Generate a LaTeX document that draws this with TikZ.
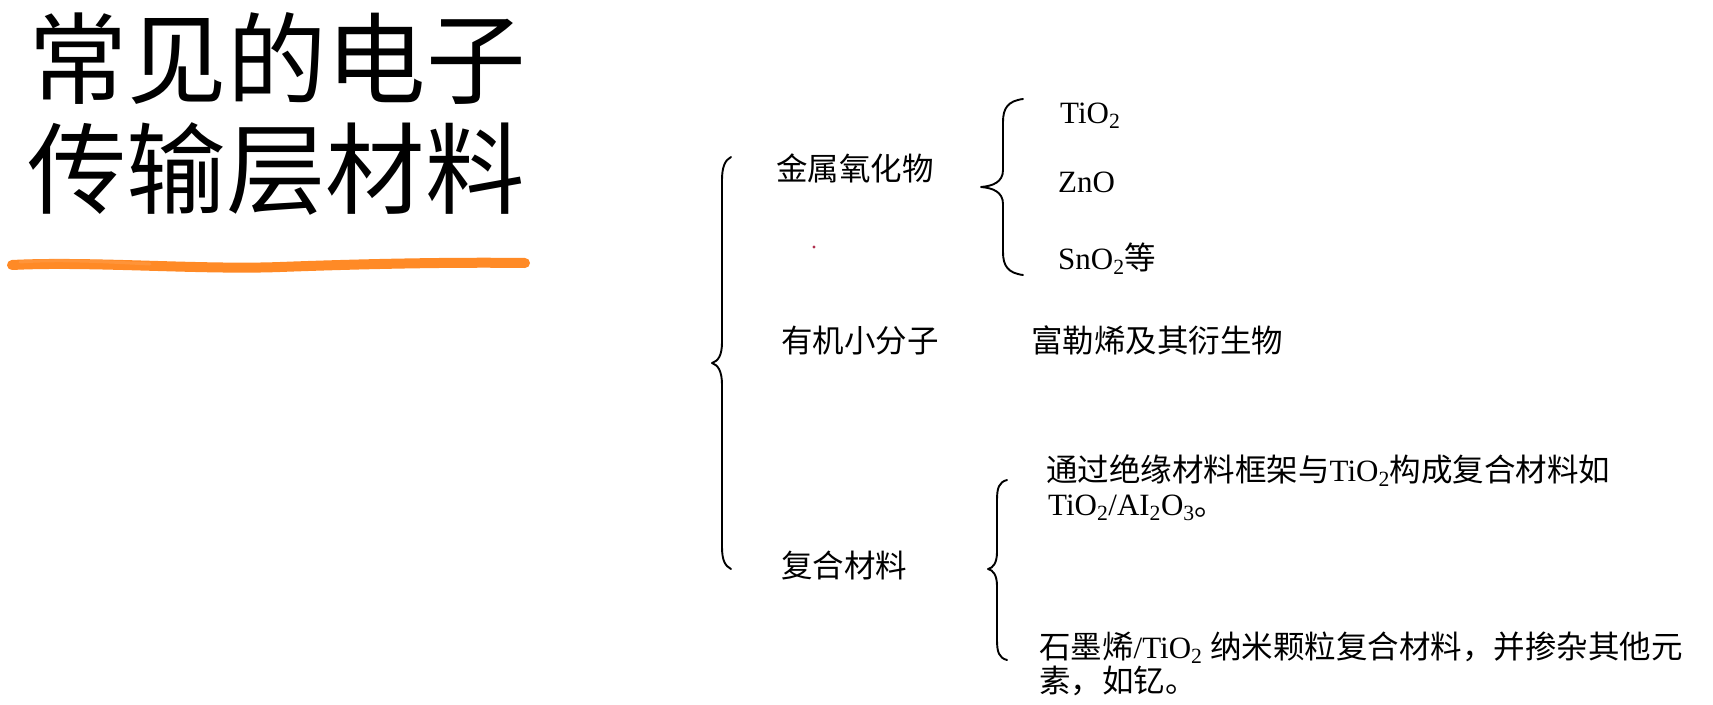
\documentclass[tikz,border=0pt]{standalone}
\usepackage{fontspec}
\setmainfont{Liberation Serif}
\newfontfamily\cjk{Noto Sans CJK SC}
\definecolor{marker}{HTML}{FF8A26}
\definecolor{speck}{HTML}{B0304F}
\begin{document}
\begin{tikzpicture}[x=1pt,y=-1pt,
  title/.style={anchor=base west,inner sep=0pt,font=\cjk\fontsize{99.5}{108}\selectfont},
  label/.style={anchor=base west,inner sep=0pt,font=\cjk\fontsize{31.5}{36}\selectfont},
  formula/.style={anchor=base west,inner sep=0pt,font=\fontsize{31}{36}\selectfont},
  bracket/.style={draw=black,line width=1.9pt,line cap=round,line join=round}]
\useasboundingbox (0,0) rectangle (1713,704);
\fill[white] (0,0) rectangle (1713,704);

% heading
\node[title] (t1) at (28,96) {常见的电子};
\node[title] (t2) at (27,206) {传输层材料};
\draw[marker,line width=10pt,line cap=round]
  (12,265) .. controls (90,261) and (200,270) .. (280,267)
  .. controls (360,264) and (450,262) .. (525,263);
\draw[marker!85!white,line width=3pt,line cap=round,opacity=.6]
  (20,262) .. controls (60,259) and (110,262) .. (150,264);

% main bracket
\draw[bracket] (731,157) .. controls (725,160) and (722,167) .. (722,180)
  -- (722,342) .. controls (722,356) and (718,361) .. (712,363)
  .. controls (718,365) and (722,371) .. (722,385)
  -- (722,547) .. controls (722,560) and (725,566) .. (731,569);

% first-level categories
\node[label] (oxide) at (776,180) {金属氧化物};
\node[label] (small) at (781,352) {有机小分子};
\node[label] (comp) at (781,577) {复合材料};

\fill[speck] (814,247) circle (1.6);

% metal oxides
\draw[bracket] (1023,99) .. controls (1008,101) and (1003,108) .. (1003,122)
  -- (1003,170) .. controls (1003,182) and (993,186) .. (981,187)
  .. controls (993,188) and (1003,192) .. (1003,204)
  -- (1003,252) .. controls (1003,266) and (1008,273) .. (1023,275);
\node[formula] (ti) at (1060,123) {TiO\textsubscript{2}};
\node[formula] (zn) at (1058,192) {ZnO};
\node[formula] (sn) at (1058,269) {SnO\textsubscript{2}{\cjk\fontsize{31.5}{36}\selectfont 等}};

% small molecules
\node[label] (fuller) at (1031,352) {富勒烯及其衍生物};

% composites
\draw[bracket] (1007,480) .. controls (999,482) and (997,488) .. (997,500)
  -- (997,552) .. controls (997,563) and (993,568) .. (988,569)
  .. controls (993,570) and (997,575) .. (997,586)
  -- (997,640) .. controls (997,652) and (999,658) .. (1007,660);
\node[formula] (ca) at (1046,481) {{\cjk\fontsize{31.5}{36}\selectfont 通过绝缘材料框架与}TiO\textsubscript{2}{\cjk\fontsize{31.5}{36}\selectfont 构成复合材料如}};
\node[formula] (cb) at (1048,515) {TiO\textsubscript{2}/AI\textsubscript{2}O\textsubscript{3}{\cjk\fontsize{31.5}{36}\selectfont 。}};
\node[formula] (cc) at (1039,658) {{\cjk\fontsize{31.5}{36}\selectfont 石墨烯}/TiO\textsubscript{2} {\cjk\fontsize{31.5}{36}\selectfont 纳米颗粒复合材料，并掺杂其他元}};
\node[label] (cd) at (1039,692) {素，如钇。};
\end{tikzpicture}
\end{document}
